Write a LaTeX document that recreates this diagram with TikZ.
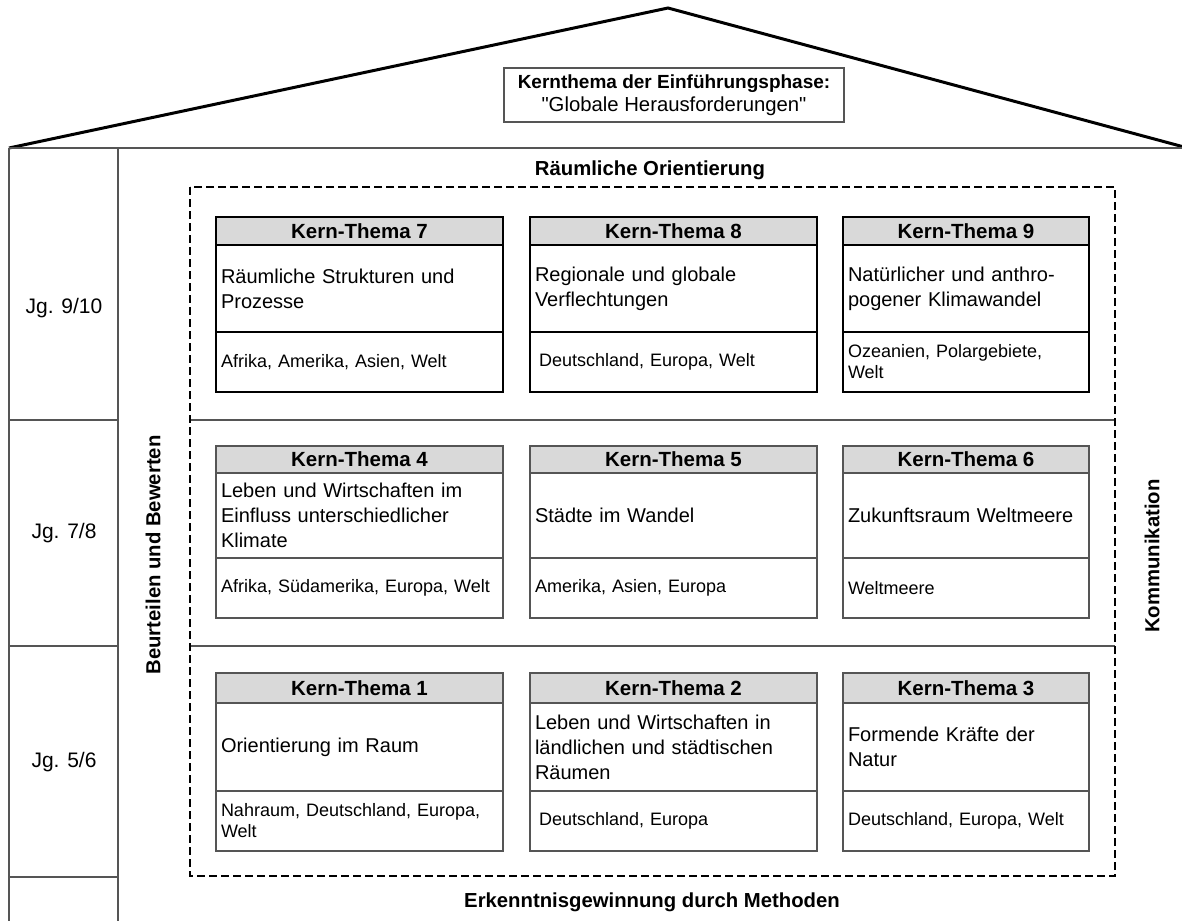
\documentclass[tikz,border=0pt]{standalone}
\usepackage{fontspec}
\setmainfont{Liberation Sans}[Ligatures=TeXOff]
\definecolor{ln}{RGB}{85,85,85}
\definecolor{hdgray}{RGB}{217,217,217}
\newcommand\hh{28}
\newcommand\bh{87}
\newcommand\fh{60}
\newcommand\ktb[8]{%
  \node[hd,#5,minimum width=#4pt,minimum height=\hh pt] (#1h) at (#2,#3) {Kern-Thema #6};
  \node[bd,#5,minimum width=#4pt,text width=\the\dimexpr#4pt-10pt\relax,minimum height=\bh pt] (#1b) at (#1h.south) {#7};
  \node[ft,#5,minimum width=#4pt,text width=\the\dimexpr#4pt-10pt\relax,minimum height=\fh pt] (#1f) at (#1b.south) {#8};
}
\tikzset{
  hd/.style={draw, fill=hdgray, font=\fontsize{20.5}{23}\selectfont\bfseries, inner sep=0pt, outer sep=0pt, anchor=north west},
  bd/.style={draw, font=\fontsize{20}{25}\selectfont, align=left, inner xsep=5pt, inner ysep=0pt, outer sep=0pt, anchor=north},
  ft/.style={draw, font=\fontsize{18}{21}\selectfont, align=left, inner xsep=5pt, inner ysep=0pt, outer sep=0pt, anchor=north},
  rA/.style={line width=2pt, draw=black},
  rB/.style={line width=1.3pt, draw=ln},
  house/.style={draw=ln, line width=1.5pt},
  lbl/.style={font=\fontsize{21}{24}\selectfont, inner sep=0pt},
  blbl/.style={font=\fontsize{20.3}{24}\selectfont\bfseries, inner sep=0pt},
  dashbox/.style={draw=black, line width=1.5pt, dash pattern=on 8pt off 4pt},
}
\begin{document}
\begin{tikzpicture}[x=1pt,y=-1pt]
\useasboundingbox[fill=white] (0,0) rectangle (1182,921);
% roof
\draw[line width=3pt, line join=miter] (9,148) -- (668,8) -- (1184,147);
% house lines
\draw[house] (9,148) -- (1182,148);
\draw[house] (9,148) -- (9,921);
\draw[house] (118,148) -- (118,921);
\draw[house] (9,420) -- (118,420);
\draw[house] (9,646) -- (118,646);
\draw[house] (9,877) -- (118,877);
\draw[house] (190,420) -- (1115,420);
\draw[house] (190,646) -- (1115,646);
% dashed frame
\draw[dashbox] (190,187) rectangle (1115,876);
% top box
\node[draw=ln, line width=1.3pt, minimum width=340pt, minimum height=54pt, align=center, inner sep=0pt] (kt0) at (674,95)
  {{\fontsize{19}{22}\selectfont\bfseries Kernthema der Einführungsphase:}\\[3pt]{\fontsize{20.3}{24}\selectfont "Globale Herausforderungen"}};
% labels
\node[lbl] (j910) at (64,308) {Jg. 9/10};
\node[lbl] (j78) at (64,533) {Jg. 7/8};
\node[lbl] (j56) at (64,762) {Jg. 5/6};
\node[blbl] (ro) at (650,170) {Räumliche Orientierung};
\node[blbl] (em) at (652,902) {Erkenntnisgewinnung durch Methoden};
\node[blbl, rotate=90] (bb) at (153,555) {Beurteilen und Bewerten};
\node[blbl, rotate=90] (ko) at (1152,556) {Kommunikation};
% row 1
\renewcommand\hh{28}\renewcommand\bh{87}\renewcommand\fh{60}
\ktb{k7}{216}{217}{287}{rA}{7}{Räumliche Strukturen und\\Prozesse}{Afrika, Amerika, Asien, Welt}
\ktb{k8}{530}{217}{287}{rA}{8}{Regionale und globale\\Verflechtungen}{\hspace*{4pt}Deutschland, Europa, Welt}
\ktb{k9}{843}{217}{246}{rA}{9}{Natürlicher und anthro-\\pogener Klimawandel}{Ozeanien, Polargebiete,\\Welt}
% row 2
\renewcommand\hh{27}\renewcommand\bh{85}\renewcommand\fh{60}
\ktb{k4}{216}{446}{287}{rB}{4}{Leben und Wirtschaften im\\Einfluss unterschiedlicher\\Klimate}{Afrika, Südamerika, Europa, Welt}
\ktb{k5}{530}{446}{287}{rB}{5}{Städte im Wandel}{Amerika, Asien, Europa}
\ktb{k6}{843}{446}{246}{rB}{6}{Zukunftsraum Weltmeere}{Weltmeere}
% row 3
\renewcommand\hh{30}\renewcommand\bh{88}\renewcommand\fh{60}
\ktb{k1}{216}{673}{287}{rB}{1}{Orientierung im Raum}{Nahraum, Deutschland, Europa,\\Welt}
\ktb{k2}{530}{673}{287}{rB}{2}{Leben und Wirtschaften in\\ländlichen und städtischen\\Räumen}{\hspace*{4pt}Deutschland, Europa}
\ktb{k3}{843}{673}{246}{rB}{3}{Formende Kräfte der\\Natur}{Deutschland, Europa, Welt}
\end{tikzpicture}
\end{document}
